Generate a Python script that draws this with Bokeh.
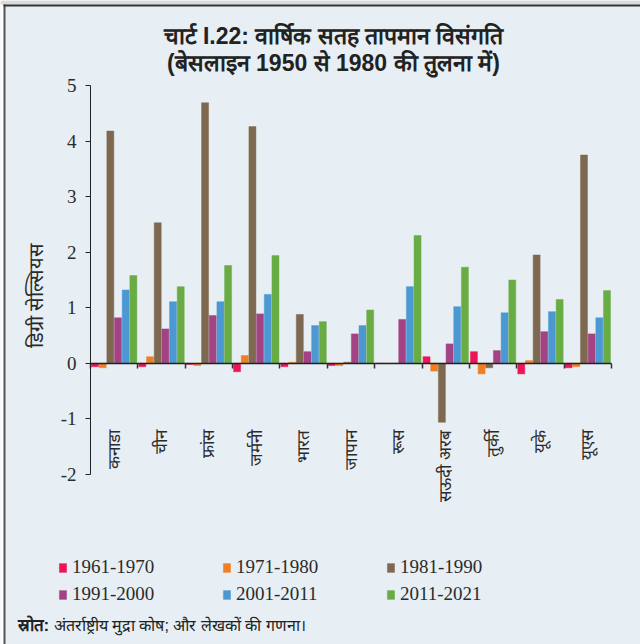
import math
import numpy as np
from bokeh.plotting import figure
from bokeh.models import (ColumnDataSource, Range1d, FixedTicker, NumeralTickFormatter,
                          CustomJSTickFormatter, Legend, LegendItem, Label, BoxAnnotation)
from bokeh.transform import dodge
from bokeh.embed import file_html
from bokeh.resources import INLINE

# ---------------- data ----------------
countries = ["कनाडा", "चीन", "फ्रांस", "जर्मनी", "भारत", "जापान", "रूस",
             "सऊदी अरब", "तुर्की", "यूके", "यूएस"]
periods = ["1961-1970", "1971-1980", "1981-1990", "1991-2000", "2001-2011", "2011-2021"]
v_1961_1970 = [-0.06, -0.06, -0.02, -0.15, -0.06, -0.04, 0.00, 0.12, 0.21, -0.19, -0.08]
v_1971_1980 = [-0.08, 0.12, -0.04, 0.14, 0.02, -0.04, 0.00, -0.14, -0.19, 0.05, -0.06]
v_1981_1990 = [4.18, 2.53, 4.69, 4.26, 0.88, 0.02, 0.00, -1.06, -0.08, 1.95, 3.75]
v_1991_2000 = [0.82, 0.62, 0.86, 0.89, 0.21, 0.53, 0.79, 0.35, 0.23, 0.57, 0.53]
v_2001_2011 = [1.32, 1.11, 1.11, 1.24, 0.68, 0.68, 1.38, 1.02, 0.91, 0.93, 0.82]
v_2011_2021 = [1.58, 1.38, 1.76, 1.94, 0.75, 0.96, 2.30, 1.73, 1.50, 1.15, 1.31]
y_ticks = [-2, -1, 0, 1, 2, 3, 4, 5]

series = [v_1961_1970, v_1971_1980, v_1981_1990, v_1991_2000, v_2001_2011, v_2011_2021]
colors = ["#ED1556", "#F07E22", "#7E6950", "#A34384", "#4B98D2", "#69AC44"]

BG = "#E7EEF4"
TXT = "#2B2B2B"

# ---------------- layout (pixels within the 640x644 canvas) ----------------
W, H = 640, 644
AX_L, AX_R = 90, 611      # x pixel of category 0 and category 11 edges
AX_T, AX_B = 85, 474      # y pixel of top (5) and bottom (-2) of value axis
n = len(countries)
ymin, ymax = min(y_ticks), max(y_ticks)
dx = n / (AX_R - AX_L)
dy = (ymax - ymin) / (AX_B - AX_T)
x_range = Range1d(0 - AX_L * dx, n + (W - AX_R) * dx)
y_range = Range1d(ymin - (H - AX_B) * dy, ymax + AX_T * dy)

src = ColumnDataSource(dict(
    xc=np.arange(n) + 0.5,
    country=countries,
    **{f"s{i}": s for i, s in enumerate(series)},
))

p = figure(width=W, height=H, x_range=x_range, y_range=y_range,
           output_backend="svg", toolbar_location=None,
           min_border=0, min_border_left=0, min_border_right=0,
           min_border_top=0, min_border_bottom=0)
p.background_fill_color = BG
p.border_fill_color = BG
p.outline_line_color = None
p.xgrid.grid_line_color = None
p.ygrid.grid_line_color = None

# outer page frame (white margin, dark left/top rule)
def sbox(l, r, b, t, color):
    return BoxAnnotation(left=l, right=r, bottom=b, top=t, left_units="screen",
                         right_units="screen", bottom_units="screen", top_units="screen",
                         fill_color=color, fill_alpha=1, line_alpha=0, level="underlay")

p.add_layout(sbox(0, 3, 0, H, "white"))
p.add_layout(sbox(0, W, H - 4, H, "#DADADA"))
p.add_layout(sbox(3, 5, 0, H - 4, "#555555"))
p.add_layout(sbox(3, W, H - 6, H - 4, "#333333"))

stride = 0.162
items = []
for i, (per, col) in enumerate(zip(periods, colors)):
    r = p.vbar(x=dodge("xc", (i - 2.5) * stride, range=p.x_range), top=f"s{i}", bottom=0,
               width=0.148, source=src, fill_color=col, line_color=col, line_alpha=0.45)
    items.append(LegendItem(label=per, renderers=[r]))

# x axis at zero with ticks at category boundaries
xa = p.xaxis[0]
xa.fixed_location = 0
xa.bounds = (0, n)
xa.ticker = FixedTicker(ticks=list(range(n + 1)))
xa.formatter = CustomJSTickFormatter(code="return ''")
xa.major_tick_out = 5
xa.major_tick_in = 0
xa.minor_tick_line_color = None
xa.axis_line_color = "#222222"
xa.major_tick_line_color = "#333333"
xa.axis_line_width = 1.5
xa.major_tick_line_width = 1.5

ya = p.yaxis[0]
ya.fixed_location = 0
ya.bounds = (ymin, ymax)
ya.ticker = FixedTicker(ticks=y_ticks)
ya.formatter = NumeralTickFormatter(format="0")
ya.major_tick_out = 5
ya.major_tick_in = 0
ya.minor_tick_line_color = None
ya.axis_line_color = "#222222"
ya.major_tick_line_color = "#222222"
ya.major_label_text_font = "Liberation Serif"
ya.major_label_text_font_size = "19px"
ya.major_label_text_color = TXT
ya.major_label_standoff = 9

# y axis title
p.add_layout(Label(x=35, y=H - 295, x_units="screen", y_units="screen",
                   text="डिग्री सेल्सियस", angle=math.pi / 2, text_align="center",
                   text_baseline="middle", text_font_size="20px", text_color=TXT))

# category labels (vertical)
p.text(x="xc", y=-1.2, text="country", source=src, angle=math.pi / 2,
       text_align="right", text_baseline="middle", text_font_size="17px",
       text_color=TXT)

legend = Legend(items=items, location=(58, 39), orientation="horizontal", ncols=3,
                glyph_width=9, glyph_height=11, label_standoff=5, label_width=145,
                label_height=22, spacing=5, padding=0, margin=0,
                label_text_font="Liberation Serif", label_text_font_size="19px",
                label_text_color=TXT, border_line_alpha=0, background_fill_alpha=0)
p.add_layout(legend)

# titles
for txt, yy in [("चार्ट I.22: वार्षिक सतह तापमान विसंगति", H - 35),
                ("(बेसलाइन 1950 से 1980 की तुलना में)", H - 62)]:
    p.add_layout(Label(x=333, y=yy, x_units="screen", y_units="screen", text=txt,
                       text_align="center", text_baseline="middle",
                       text_font_size="23px", text_font_style="bold", text_color="#222222"))

# source note
p.add_layout(Label(x=17, y=19, x_units="screen", y_units="screen", text="स्रोत:",
                   text_font_size="17px", text_font_style="bold", text_color="#222222",
                   text_baseline="alphabetic"))
p.add_layout(Label(x=53, y=19, x_units="screen", y_units="screen",
                   text="अंतर्राष्ट्रीय मुद्रा कोष; और लेखकों की गणना।",
                   text_font_size="16px", text_color="#222222", text_baseline="alphabetic"))

open("out.html", "w").write(file_html(p, INLINE))
